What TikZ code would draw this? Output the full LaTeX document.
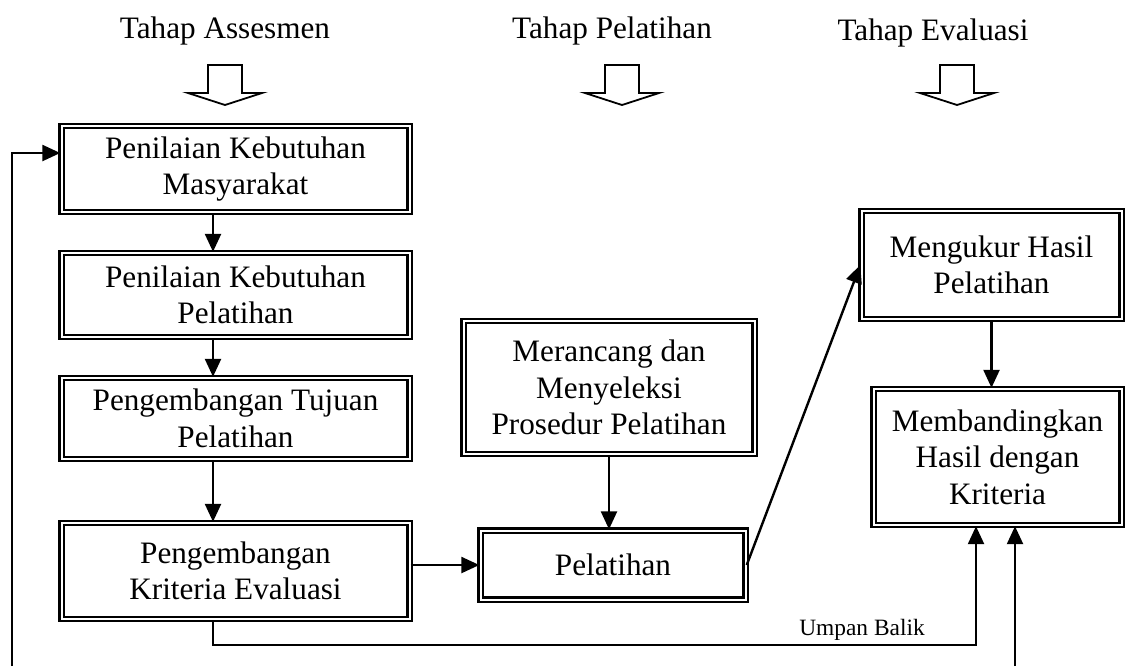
\documentclass[tikz,border=0pt]{standalone}
\usepackage{fontspec}
\setmainfont{Liberation Serif}
\usetikzlibrary{calc, arrows, positioning, arrows.meta}

\begin{document}
\begin{tikzpicture}[x=0.5pt, y=-0.5pt,
  font=\fontsize{15.6}{18.3}\selectfont,
  kotak/.style={draw, double, double distance=1pt, line width=1.2pt, align=center, inner sep=2pt},
  panah/.style={line width=1.2pt, -{Triangle[length=9pt,width=8pt]}},
  tahap/.style={line width=0.9pt, line join=miter}]
\useasboundingbox (0,0) rectangle (1127,666);

% judul tahap
\node (tAses) at (225,31) {Tahap Assesmen};
\node (tLatih) at (612,31) {Tahap Pelatihan};
\node (tEval) at (933,33) {Tahap Evaluasi};
\foreach \hx in {225,622,957}
  \draw[tahap] (\hx-17,65) -- (\hx-17,93) -- (\hx-37,93) -- (\hx,105) -- (\hx+37,93) -- (\hx+17,93) -- (\hx+17,65) -- cycle;

% tahap assesmen
\node[kotak, minimum width=174pt, minimum height=43pt] (masy) at (235.5,169) {Penilaian Kebutuhan\\Masyarakat};
\node[kotak, minimum width=174pt, minimum height=42pt] (butuh) at (235.5,295) {Penilaian Kebutuhan\\Pelatihan};
\node[kotak, minimum width=174pt, minimum height=40.5pt] (tujuan) at (235.5,418.5) {Pengembangan Tujuan\\Pelatihan};
\node[kotak, minimum width=174pt, minimum height=48pt] (krit) at (235.5,571) {Pengembangan\\Kriteria Evaluasi};

% tahap pelatihan
\node[kotak, minimum width=145.5pt, minimum height=66.5pt] (rancang) at (609,387.5) {Merancang dan\\Menyeleksi\\Prosedur Pelatihan};
\node[kotak, minimum width=132.5pt, minimum height=34.5pt] (latih) at (613,565) {Pelatihan};

% tahap evaluasi
\node[kotak, minimum width=130pt, minimum height=54pt] (ukur) at (991.5,265) {Mengukur Hasil\\Pelatihan};
\node[kotak, minimum width=124pt, minimum height=68pt] (banding) at (997.5,457) {Membandingkan\\Hasil dengan\\Kriteria};

\draw[panah] ($(masy.south)+(-22.5,0)$) -- ($(butuh.north)+(-22.5,0)$);
\draw[panah] ($(butuh.south)+(-22.5,0)$) -- ($(tujuan.north)+(-22.5,0)$);
\draw[panah] ($(tujuan.south)+(-22.5,0)$) -- ($(krit.north)+(-22.5,0)$);
\draw[panah] (latih.west -| krit.east) -- (latih.west);
\draw[panah] (rancang.south) -- (rancang.south |- latih.north);
\draw[panah] (latih.east) -- (ukur.west);
\draw[panah] (ukur.south) -- (ukur.south |- banding.north);

% umpan balik
\coordinate (balik) at (976,645);
\node[font=\fontsize{11.7}{14}\selectfont] (umpan) at (862,630) {Umpan Balik};
\draw[panah] ($(krit.south)+(-22.5,0)$) |- (balik) -- (balik |- banding.south);
\coordinate (kanan) at (1015,666);
\draw[panah] (kanan) -- (kanan |- banding.south);
\coordinate (kiri) at (12,666);
\draw[panah] (kiri) |- ($(masy.west)+(0,-16)$);
\end{tikzpicture}
\end{document}
